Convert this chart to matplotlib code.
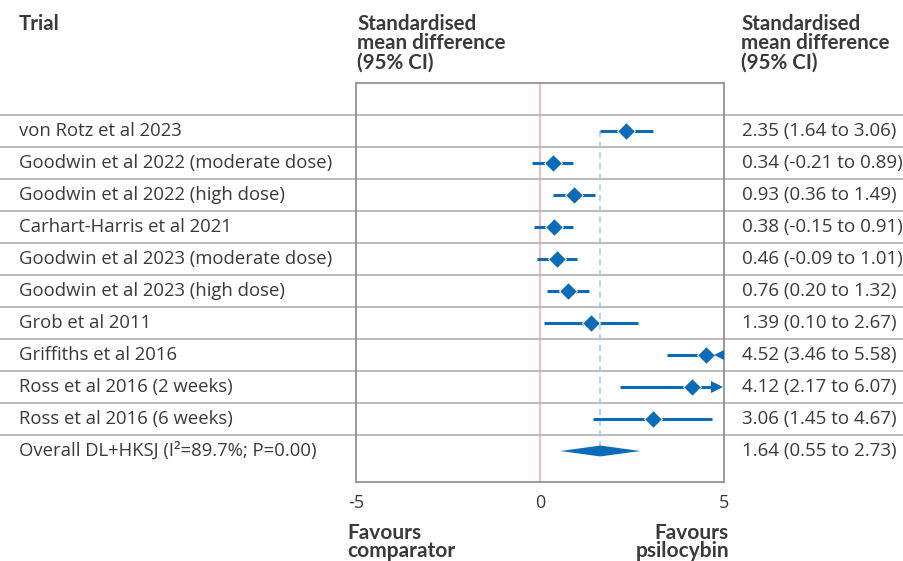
import matplotlib
matplotlib.use("Agg")
import matplotlib.pyplot as plt
from matplotlib.transforms import blended_transform_factory

trials = [
    "von Rotz et al 2023",
    "Goodwin et al 2022 (moderate dose)",
    "Goodwin et al 2022 (high dose)",
    "Carhart-Harris et al 2021",
    "Goodwin et al 2023 (moderate dose)",
    "Goodwin et al 2023 (high dose)",
    "Grob et al 2011",
    "Griffiths et al 2016",
    "Ross et al 2016 (2 weeks)",
    "Ross et al 2016 (6 weeks)",
]
smd = [2.35, 0.34, 0.93, 0.38, 0.46, 0.76, 1.39, 4.52, 4.12, 3.06]
lower = [1.64, -0.21, 0.36, -0.15, -0.09, 0.20, 0.10, 3.46, 2.17, 1.45]
upper = [3.06, 0.89, 1.49, 0.91, 1.01, 1.32, 2.67, 5.58, 6.07, 4.67]
overall_label = "Overall DL+HKSJ (I²=89.7%; P=0.00)"
overall = (1.64, 0.55, 2.73)
xticks = [-5, 0, 5]
xlim = (-5, 5)

W, H = 904, 561
fig = plt.figure(figsize=(W / 100, H / 100), dpi=100)
plt.rcParams['font.family'] = ['Open Sans', 'DejaVu Sans']
BOLD = ['Lato', 'DejaVu Sans']

box_l, box_r, box_t, box_b = 356, 724, 83, 482
ax = fig.add_axes([box_l / W, 1 - box_b / H, (box_r - box_l) / W, (box_b - box_t) / H])
row_px = 32.0
first_c = 131.0
ax.set_xlim(*xlim)
ax.set_ylim((box_b - first_c) / row_px, (box_t - first_c) / row_px)

txt = "#3a3a3a"
blue = "#0a6cb8"
grid = "#b5b5b5"

for s in ax.spines.values():
    s.set_color("#8a8a8a")
    s.set_linewidth(1.2)
ax.set_yticks([])
ax.set_xticks(xticks)
ax.set_xticklabels([str(t) for t in xticks], fontsize=13, color=txt)
ax.tick_params(axis='x', length=0, pad=9)

# separators across the full width
x0a = -box_l / (box_r - box_l)
x1a = (W - box_l) / (box_r - box_l)
n = len(trials)
for i in range(n + 1):
    ax.axhline(i - 0.5, xmin=x0a, xmax=x1a, color=grid, lw=1.3, clip_on=False, zorder=1)

# reference lines
ax.axvline(0, color="#f5a3ac", lw=1.1, zorder=2)
ax.plot([overall[0], overall[0]], [0, n - 0.17], color="#9ccbf0", lw=1.1,
        ls=(0, (4, 3)), zorder=2)

for i in range(n):
    clipped = upper[i] > xlim[1]
    near_edge = clipped and (xlim[1] - smd[i]) < 0.6
    if near_edge:
        hi = smd[i]
    elif clipped:
        hi = xlim[1] - 0.2
    else:
        hi = upper[i]
    ax.plot([lower[i], hi], [i, i], color=blue, lw=2.2, solid_capstyle='butt', zorder=3)
    ax.plot(smd[i], i, marker='D', ms=9, color=blue, mec='white', mew=0.8, zorder=4)
    if near_edge:
        ax.plot(xlim[1] - 0.14, i, marker='<', ms=6.5, color=blue, mew=0, zorder=4,
                clip_on=False)
    elif clipped:
        ax.plot(xlim[1] - 0.2, i, marker='>', ms=8, color=blue, mew=0, zorder=4,
                clip_on=False)

# overall diamond
h = 0.17
ax.fill([overall[1], overall[0], overall[2], overall[0]],
        [n, n - h, n, n + h], color=blue, lw=0, zorder=4)

# left and right columns
tl = blended_transform_factory(fig.transFigure, ax.transData)
labels = trials + [overall_label]
vals = [f"{smd[i]:.2f} ({lower[i]:.2f} to {upper[i]:.2f})" for i in range(n)]
vals.append(f"{overall[0]:.2f} ({overall[1]:.2f} to {overall[2]:.2f})")
for i, (lab, v) in enumerate(zip(labels, vals)):
    ax.text(19 / W, i, lab, transform=tl, ha='left', va='center', fontsize=13.3, color=txt)
    ax.text(742 / W, i, v, transform=tl, ha='left', va='center', fontsize=13.5, color=txt)

# headers
hdr = "Standardised\nmean difference\n(95% CI)"
fig.text(19 / W, 1 - 14 / H, "Trial", ha='left', va='top', fontsize=14.8,
         fontweight='bold', color=txt, family=BOLD)
fig.text(357 / W, 1 - 14 / H, hdr, ha='left', va='top', fontsize=14.8,
         fontweight='bold', color=txt, linespacing=0.95, family=BOLD)
fig.text(741 / W, 1 - 14 / H, hdr, ha='left', va='top', fontsize=14.8,
         fontweight='bold', color=txt, linespacing=0.95, family=BOLD)

fig.text(347 / W, 1 - 523 / H, "Favours\ncomparator", ha='left', va='top', fontsize=15,
         fontweight='bold', color=txt, linespacing=0.9, family=BOLD)
fig.text(729 / W, 1 - 523 / H, "Favours\npsilocybin", ha='right', va='top', fontsize=15,
         fontweight='bold', color=txt, linespacing=0.9, multialignment='right',
         family=BOLD)

fig.savefig("out.png", dpi=100)
